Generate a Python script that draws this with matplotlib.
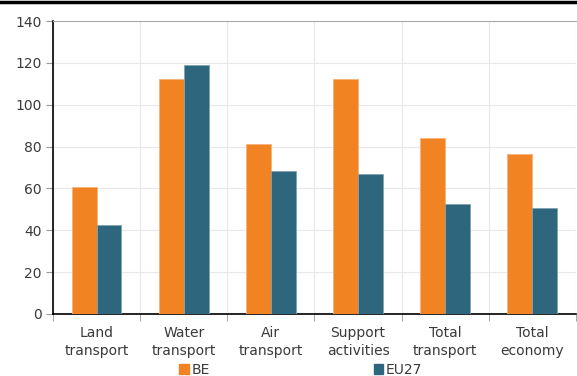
import matplotlib.pyplot as plt
import numpy as np
from matplotlib.lines import Line2D
from matplotlib.patches import Patch

categories = ["Land\ntransport", "Water\ntransport", "Air\ntransport",
              "Support\nactivities", "Total\ntransport", "Total\neconomy"]
be_values = [60.5, 112.5, 81.0, 112.3, 83.9, 76.4]
eu27_values = [42.4, 119.0, 68.5, 66.7, 52.6, 50.5]
y_ticks = [0, 20, 40, 60, 80, 100, 120, 140]

BE_COLOR = "#F28322"
EU_COLOR = "#2E677D"
TEXT_COLOR = "#3a3a3a"

fig = plt.figure(figsize=(5.77, 3.76), dpi=100)
ax = fig.add_axes([0.092, 0.165, 0.906, 0.779])

x = np.arange(len(categories))
width = 0.285
ax.bar(x - width / 2, be_values, width, color=BE_COLOR,
       edgecolor="#f7b27a", linewidth=0.6, zorder=3, label="BE")
ax.bar(x + width / 2, eu27_values, width, color=EU_COLOR,
       edgecolor="#7fa3b1", linewidth=0.6, zorder=3, label="EU27")

ax.set_xlim(-0.5, len(categories) - 0.5)
ax.set_ylim(0, 140)
ax.set_yticks(y_ticks)
ax.set_xticks(x)
ax.set_xticklabels(categories, fontsize=10, color=TEXT_COLOR, linespacing=1.3)
ax.tick_params(axis="x", length=0, pad=9)
ax.set_xticks(np.arange(len(categories) + 1) - 0.5, minor=True)
ax.tick_params(axis="x", which="minor", length=5, color="#999999")
ax.tick_params(axis="y", length=5, color="#999999", labelsize=10,
               labelcolor=TEXT_COLOR, pad=3)

ax.grid(axis="y", color="#e8e8e8", linewidth=0.8, zorder=0)
ax.grid(axis="x", which="minor", color="#e8e8e8", linewidth=0.8, zorder=0)

ax.spines["right"].set_visible(False)
ax.spines["top"].set_color("#aaaaaa")
ax.spines["top"].set_linewidth(0.8)
ax.spines["left"].set_color("black")
ax.spines["bottom"].set_color("black")
ax.spines["left"].set_linewidth(1.2)
ax.spines["bottom"].set_linewidth(1.2)

# heavy rule across the top of the figure
fig.add_artist(Line2D([0, 1], [0.994, 0.994], color="black", linewidth=2.5,
                      transform=fig.transFigure))

handles = [Patch(color=BE_COLOR), Patch(color=EU_COLOR)]
fig.legend(handles, ["BE", "EU27"], loc="center", bbox_to_anchor=(0.521, 0.016),
           ncol=2, frameon=False, fontsize=10, handlelength=0.7, handleheight=0.7,
           handletextpad=0.2, columnspacing=11.8, labelcolor=TEXT_COLOR,
           borderpad=0)

fig.savefig("out.png", dpi=100)
